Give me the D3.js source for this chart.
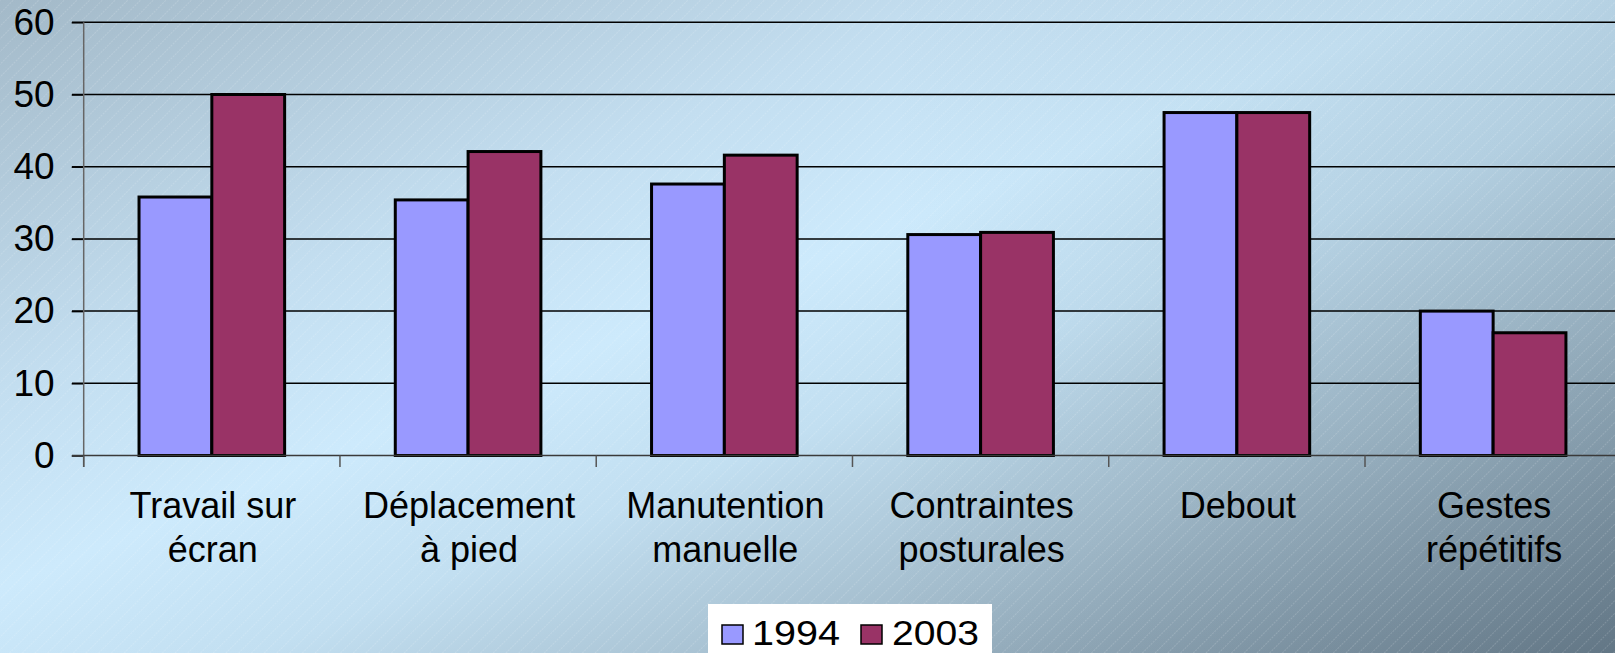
<!DOCTYPE html>
<html>
<head>
<meta charset="utf-8">
<script src="https://cdn.jsdelivr.net/npm/d3@7"></script>
<style>
html,body{margin:0;padding:0;overflow:hidden;}
svg{display:block;}
text{font-family:"Liberation Sans",Arial,sans-serif;fill:#000;}
</style>
</head>
<body>
<svg id="chart" width="1615" height="653"></svg>
<script>
const categories = ["Travail sur\nécran","Déplacement\nà pied","Manutention\nmanuelle","Contraintes\nposturales","Debout","Gestes\nrépétitifs"];
const seriesNames = ["1994","2003"];
const values1994 = [35.8, 35.4, 37.6, 30.6, 47.5, 20.0];
const values2003 = [50.0, 42.1, 41.6, 30.9, 47.5, 17.0];
const seriesColors = ["#9999ff","#993366"];
const yTicks = [0,10,20,30,40,50,60];

const W = 1615, H = 653;
const svg = d3.select("#chart");
const defs = svg.append("defs");

// background gradient
const g1 = defs.append("linearGradient").attr("id","bg").attr("x1",0).attr("y1",0).attr("x2",1).attr("y2",1);
[[0,"#a3b9c8"],[0.3,"#c3def0"],[0.45,"#cdeafc"],[0.58,"#c2dff1"],[0.75,"#a3bccc"],[1,"#6a7e8d"]]
  .forEach(([o,c])=>g1.append("stop").attr("offset",o).attr("stop-color",c));
const g2 = defs.append("linearGradient").attr("id","bg2").attr("x1",0).attr("y1",0).attr("x2",1).attr("y2",0);
[[0,0],[0.55,0],[1,0.12]]
  .forEach(([o,a])=>g2.append("stop").attr("offset",o).attr("stop-color","rgb(40,60,75)").attr("stop-opacity",a));
const pat = defs.append("pattern").attr("id","hatch").attr("patternUnits","userSpaceOnUse")
  .attr("width",9).attr("height",9).attr("patternTransform","rotate(45)");
pat.append("line").attr("x1",0).attr("y1",0).attr("x2",0).attr("y2",9)
  .attr("stroke","#ffffff").attr("stroke-opacity",0.3).attr("stroke-width",1).attr("stroke-dasharray","2,1");

svg.append("rect").attr("width",W).attr("height",H).attr("fill","url(#bg)");
svg.append("rect").attr("width",W).attr("height",H).attr("fill","url(#bg2)");
svg.append("rect").attr("width",W).attr("height",H).attr("fill","url(#hatch)");

// scales
const axisX = 83.7, band = 256.26;
const x0 = d3.scaleBand().domain(categories).range([axisX, axisX + band*categories.length]).padding(0);
const x1 = d3.scaleBand().domain(seriesNames).range([0, x0.bandwidth()]).paddingInner(0).paddingOuter(0.76);
const y = d3.scaleLinear().domain([0,60]).range([455.5, 22.3]);

// gridlines
svg.append("g").selectAll("line").data(yTicks.filter(d=>d>0)).join("line")
  .attr("x1",72).attr("x2",W).attr("y1",d=>y(d)).attr("y2",d=>y(d))
  .attr("stroke","#000").attr("stroke-width",1.5);

// y axis
const yAxis = d3.axisLeft(y).tickValues(yTicks).tickSize(12).tickPadding(17).tickFormat(d3.format("d"));
const ya = svg.append("g").attr("transform",`translate(${axisX},0)`).call(yAxis);
ya.select(".domain").remove();
ya.selectAll(".tick line").attr("stroke","#000").attr("stroke-width",1.5);
ya.selectAll(".tick text").attr("font-size",37).attr("font-family","'Liberation Sans',Arial,sans-serif").attr("fill","#000");
svg.append("line").attr("x1",axisX).attr("x2",axisX).attr("y1",y(60)).attr("y2",467)
  .attr("stroke","#666").attr("stroke-width",1.5);

// bars
const data = categories.map((c,i)=>({cat:c, vals:[values1994[i], values2003[i]]}));
const groups = svg.append("g").selectAll("g").data(data).join("g")
  .attr("transform",d=>`translate(${x0(d.cat)},0)`);
groups.selectAll("rect").data(d=>d.vals.map((v,j)=>({s:seriesNames[j], v, j}))).join("rect")
  .attr("x",d=>x1(d.s)).attr("width",x1.bandwidth())
  .attr("y",d=>y(d.v)).attr("height",d=>y(0)-y(d.v))
  .attr("fill",d=>seriesColors[d.j]).attr("stroke","#000").attr("stroke-width",3);

// x axis
svg.append("line").attr("x1",72).attr("x2",W).attr("y1",y(0)).attr("y2",y(0))
  .attr("stroke","#3a3a3a").attr("stroke-width",1.5);
const bounds = categories.map(c=>x0(c)).concat([x0(categories[categories.length-1])+x0.bandwidth()]);
svg.append("g").selectAll("line").data(bounds).join("line")
  .attr("x1",d=>d).attr("x2",d=>d).attr("y1",y(0)).attr("y2",467)
  .attr("stroke","#555").attr("stroke-width",1.5);

const labels = svg.append("g").selectAll("text").data(categories).join("text")
  .attr("text-anchor","middle").attr("font-size",36)
  .attr("transform",d=>`translate(${x0(d)+x0.bandwidth()/2+1},518)`);
labels.selectAll("tspan").data(d=>d.split("\n")).join("tspan")
  .attr("x",0).attr("dy",(d,i)=>i===0?0:43.5).text(d=>d);

// legend
const lg = svg.append("g");
lg.append("rect").attr("x",708).attr("y",604).attr("width",284).attr("height",60).attr("fill","#fff");
const legendX = [722, 861];
const legendTextX = [752, 892];
const legendTextLen = [88, 87];
seriesNames.forEach((s,i)=>{
  lg.append("rect").attr("x",legendX[i]).attr("y",625).attr("width",21).attr("height",19)
    .attr("fill",seriesColors[i]).attr("stroke","#000").attr("stroke-width",1.5);
  lg.append("text").attr("x",legendTextX[i]).attr("y",645).attr("font-size",35)
    .attr("textLength",legendTextLen[i]).attr("lengthAdjust","spacingAndGlyphs").text(s);
});
</script>
</body>
</html>
